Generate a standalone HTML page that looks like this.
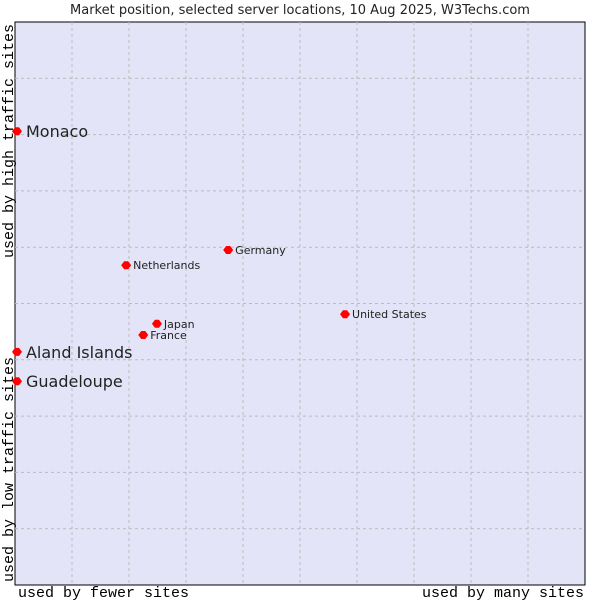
<!DOCTYPE html>
<html><head><meta charset="utf-8"><style>
body{margin:0;background:#fff;}
svg{display:block;font-family:"DejaVu Sans","Liberation Sans",sans-serif;}
</style></head><body>
<svg id="c" width="600" height="600" xmlns="http://www.w3.org/2000/svg">
<text x="300" y="14" text-anchor="middle" font-size="13" fill="#222">Market position, selected server locations, 10 Aug 2025, W3Techs.com</text>
<rect x="15" y="22" width="570" height="563" fill="#e4e4f8" stroke="#000" stroke-width="1"/>
<g id="grid"></g>
<g id="pts"></g>
<text x="18" y="597" font-family="Liberation Mono,monospace" font-size="15" fill="#000">used by fewer sites</text>
<text x="584" y="597" text-anchor="end" font-family="Liberation Mono,monospace" font-size="15" fill="#000">used by many sites</text>
<text transform="translate(13,582) rotate(-90)" font-family="Liberation Mono,monospace" font-size="15" fill="#000">used by low traffic sites</text>
<text transform="translate(13,24) rotate(-90)" text-anchor="end" font-family="Liberation Mono,monospace" font-size="15" fill="#000">used by high traffic sites</text>
</svg>
<script>
const names=["Monaco","Aland Islands","Guadeloupe","Netherlands","Germany","United States","Japan","France"];
const xs=[0.35,0.35,0.35,19.5,37.4,57.9,24.9,22.5];
const ys=[80.6,41.4,36.2,56.8,59.5,48.1,46.4,44.4];
const big=[true,true,true,false,false,false,false,false];
const NS="http://www.w3.org/2000/svg";
const L=15,R=585,T=22,B=585;
const sx=v=>L+v/100*(R-L), sy=v=>B-v/100*(B-T);
const g=document.getElementById('grid');
for(let i=1;i<10;i++){
  let l=document.createElementNS(NS,'line');
  l.setAttribute('x1',sx(i*10));l.setAttribute('x2',sx(i*10));l.setAttribute('y1',T);l.setAttribute('y2',B);
  l.setAttribute('stroke','#bbb');l.setAttribute('stroke-dasharray','3,3');
  
  
  g.appendChild(l);
  let h=document.createElementNS(NS,'line');
  h.setAttribute('y1',sy(i*10));h.setAttribute('y2',sy(i*10));h.setAttribute('x1',L);h.setAttribute('x2',R);
  h.setAttribute('stroke','#bbb');h.setAttribute('stroke-dasharray','3,3');
  
  
  g.appendChild(h);
}
const p=document.getElementById('pts');
names.forEach((n,i)=>{
  const x=sx(xs[i]),y=sy(ys[i]);
  let d=document.createElementNS(NS,'path');
  d.setAttribute('d',`M${x-5},${y}L${x-2},${y-4}L${x+2},${y-4}L${x+5},${y}L${x+2},${y+4}L${x-2},${y+4}Z`);
  d.setAttribute('fill','#f00');
  
  
  p.appendChild(d);
  let t=document.createElementNS(NS,'text');
  t.setAttribute('x',x+(big[i]?9:7));t.setAttribute('y',y+(big[i]?6:4));
  t.setAttribute('font-size',big[i]?16:11);t.setAttribute('fill','#222');
  t.textContent=n;
  
  
  p.appendChild(t);
});
</script>
</body></html>
